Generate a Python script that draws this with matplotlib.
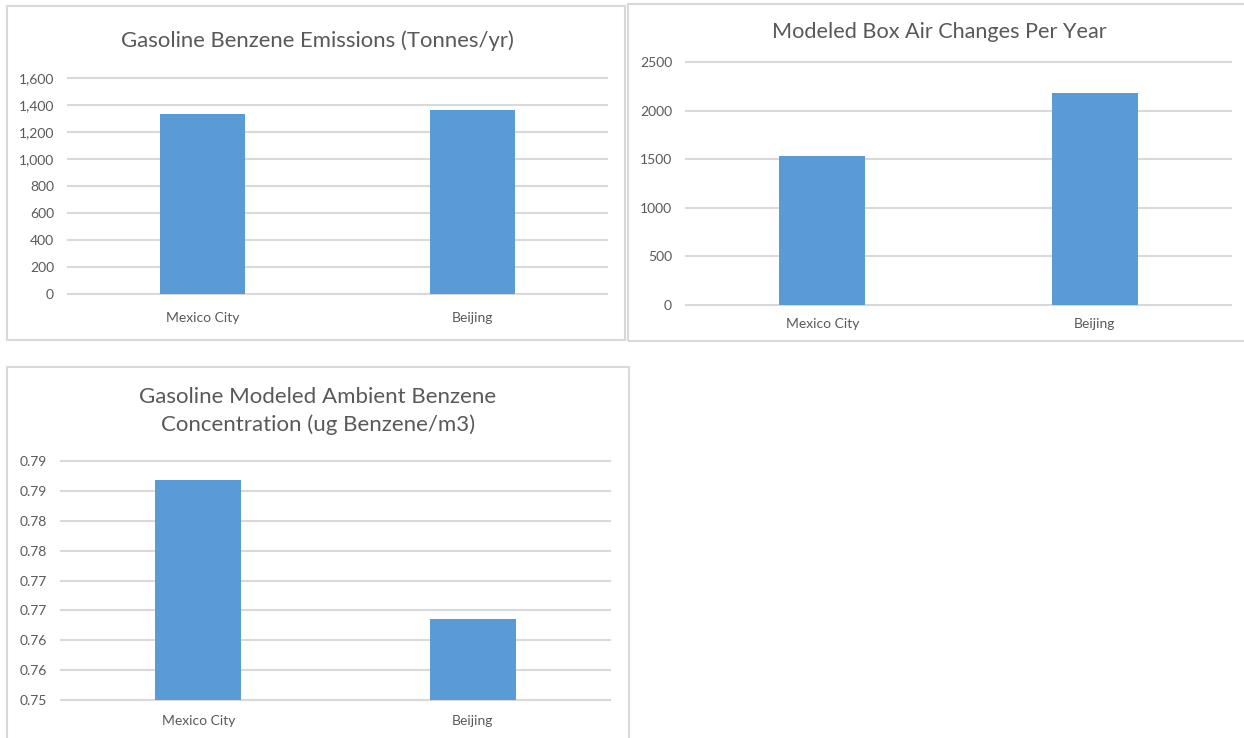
import matplotlib
matplotlib.use("Agg")
import matplotlib.pyplot as plt
from matplotlib.patches import Rectangle
from matplotlib.ticker import FuncFormatter

# ---- data ----
cities = ["Mexico City", "Beijing"]

emissions_tonnes = [1335, 1365]
emissions_ticks = [0, 200, 400, 600, 800, 1000, 1200, 1400, 1600]

air_changes = [1535, 2182]
air_ticks = [0, 500, 1000, 1500, 2000, 2500]

concentration = [0.7869, 0.7636]
conc_ticks = [0.750, 0.755, 0.760, 0.765, 0.770, 0.775, 0.780, 0.785, 0.790]
conc_tick_labels = ["0.75", "0.76", "0.76", "0.77", "0.77", "0.78", "0.78", "0.79", "0.79"]

title_emissions = "Gasoline Benzene Emissions (Tonnes/yr)"
title_air = "Modeled Box Air Changes Per Year"
title_conc = "Gasoline Modeled Ambient Benzene\nConcentration (ug Benzene/m3)"

# ---- style ----
W, H = 1244, 738
BAR = "#5B9BD5"
GRID = "#D9D9D9"
TEXT = "#595959"
FONT = ["Lato", "DejaVu Sans"]
plt.rcParams["font.family"] = FONT

fig = plt.figure(figsize=(W / 100, H / 100), dpi=100)
fig.patch.set_facecolor("white")


def px_axes(x0, y0, x1, y1):
    return fig.add_axes([x0 / W, 1 - y1 / H, (x1 - x0) / W, (y1 - y0) / H])


def px_frame(x0, y0, x1, y1):
    fig.patches.append(Rectangle((x0 / W, 1 - y1 / H), (x1 - x0) / W, (y1 - y0) / H,
                                 transform=fig.transFigure, fill=False,
                                 edgecolor=GRID, linewidth=1.5, zorder=0))


def px_text(x, y, s, size, spacing=1.3):
    fig.text(x / W, 1 - y / H, s, ha="center", va="center", fontsize=size,
             color=TEXT, linespacing=spacing)


def bar_panel(ax, values, ticks, ymin, ymax, xpad, ypad, fmt=None, labels=None):
    ax.bar(range(len(cities)), values, width=0.315, color=BAR, zorder=2)
    ax.set_xlim(-0.5, len(cities) - 0.5)
    ax.set_ylim(ymin, ymax)
    ax.set_yticks(ticks)
    if labels is not None:
        ax.set_yticklabels(labels)
    elif fmt is not None:
        ax.yaxis.set_major_formatter(FuncFormatter(fmt))
    ax.set_xticks(range(len(cities)))
    ax.set_xticklabels(cities)
    for s in ax.spines.values():
        s.set_visible(False)
    ax.set_axisbelow(True)
    ax.yaxis.grid(True, color=GRID, linewidth=1.5)
    for gl in ax.get_ygridlines():
        gl.set_clip_on(False)
    ax.tick_params(axis="y", length=0, pad=ypad, labelsize=10, labelcolor=TEXT)
    ax.tick_params(axis="x", length=0, pad=xpad, labelsize=10, labelcolor=TEXT)
    ax.set_facecolor("none")


# panel frames
px_frame(7, 6, 625, 340)
px_frame(628, 4, 1252, 341)
px_frame(7, 367, 629, 745)

# emissions
ax1 = px_axes(68, 78, 607, 294)
bar_panel(ax1, emissions_tonnes, emissions_ticks, 0, 1600, xpad=13, ypad=10,
          fmt=lambda v, p: f"{int(v):,}")
px_text(317, 41, title_emissions, 15.9)

# air changes
ax2 = px_axes(686, 62, 1231, 305)
bar_panel(ax2, air_changes, air_ticks, 0, 2500, xpad=9.5, ypad=10,
          fmt=lambda v, p: f"{int(v)}")
px_text(939, 32, title_air, 15.6)

# concentration
ax3 = px_axes(61, 461, 610, 700)
bar_panel(ax3, concentration, conc_ticks, 0.75, 0.79, xpad=10.5, ypad=10,
          labels=conc_tick_labels)
px_text(318, 411, title_conc, 16, spacing=1.45)

fig.savefig("out.png", dpi=100, facecolor="white")
